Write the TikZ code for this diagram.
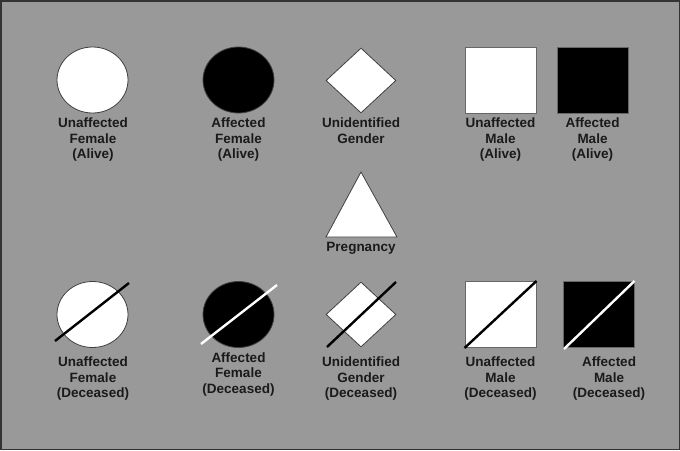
\documentclass[tikz,border=0pt]{standalone}
\usepackage{fontspec}
\setmainfont{Liberation Sans}
\usetikzlibrary{shapes.geometric}
\definecolor{bg}{HTML}{999999}
\definecolor{edge}{HTML}{333333}
\definecolor{txt}{HTML}{1A1A1A}
\begin{document}
\begin{tikzpicture}[x=1pt,y=-1pt,
  fem/.style={ellipse,minimum width=71pt,minimum height=66pt,inner sep=0pt,draw=black!75,line width=0.8pt},
  mal/.style={rectangle,minimum width=71pt,minimum height=66pt,inner sep=0pt,draw=black!60,line width=1pt},
  unk/.style={diamond,minimum width=70pt,minimum height=65pt,inner sep=0pt,draw=black!75,line width=0.8pt},
  lbl/.style={anchor=north,align=center,inner sep=0pt,text=txt,font=\fontsize{13.5pt}{15.5pt}\selectfont\bfseries},
  dline/.style={line width=2.4pt}]
\useasboundingbox (0,0) rectangle (680,450);
\fill[bg] (0,0) rectangle (680,450);
\draw[edge,line width=1.5pt] (0.75,0.75) rectangle (679.25,449.25);
% row 1
\node[fem,fill=white] (uf) at (92.5,80) {};
\node[fem,fill=black] (af) at (238.5,80) {};
\node[unk,fill=white] (ug) at (361,80.5) {};
\node[mal,fill=white] (um) at (500.5,80) {};
\node[mal,fill=black] (am) at (592.5,80) {};
\node[lbl] (tuf) at (93,118) {Unaffected\\Female\\(Alive)};
\node[lbl] (taf) at (238.5,118) {Affected\\Female\\(Alive)};
\node[lbl] (tug) at (361,118) {Unidentified\\Gender};
\node[lbl] (tum) at (500.5,118) {Unaffected\\Male\\(Alive)};
\node[lbl] (tam) at (592.5,118) {Affected\\Male\\(Alive)};
% pregnancy
\draw[fill=white,draw=black!75,line width=0.8pt] (361,172) -- (397,237) -- (326,237) -- cycle;
\node[lbl] (tp) at (361,242) {Pregnancy};
% row 3
\node[fem,fill=white] (ufd) at (92.5,314.5) {};
\draw[dline,black] (55,341) -- (129,283);
\node[fem,fill=black] (afd) at (238.5,314.5) {};
\draw[dline,white] (201,344) -- (277,285);
\node[unk,fill=white] (ugd) at (361,314.5) {};
\draw[dline,black] (327,347) -- (396,282);
\node[mal,fill=white] (umd) at (500.5,314.5) {};
\draw[dline,black] (umd.south west) -- (umd.north east);
\node[mal,fill=black] (amd) at (598.5,314.5) {};
\draw[dline,white] (564,349) -- (amd.north east);
\node[lbl] (tufd) at (93,357) {Unaffected\\Female\\(Deceased)};
\node[lbl] (tafd) at (238.5,352.5) {Affected\\Female\\(Deceased)};
\node[lbl] (tugd) at (361,357) {Unidentified\\Gender\\(Deceased)};
\node[lbl] (tumd) at (500.5,357) {Unaffected\\Male\\(Deceased)};
\node[lbl] (tamd) at (609,357) {Affected\\Male\\(Deceased)};
\end{tikzpicture}
\end{document}
